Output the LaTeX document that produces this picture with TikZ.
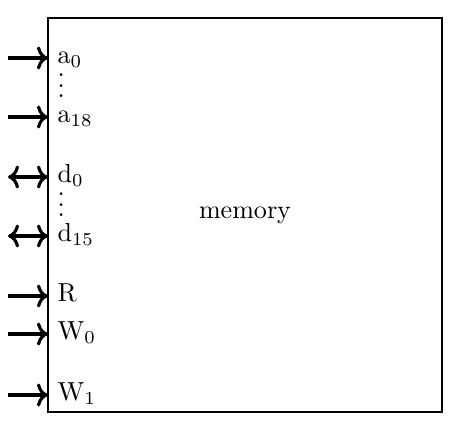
\documentclass[tikz,border=0pt]{standalone}
\usetikzlibrary{arrows.meta, positioning}
\tikzset{membox/.style={rectangle,draw,thick,minimum width=151pt,minimum height=151pt,inner sep=0pt},
port/.style={anchor=mid west,inner xsep=3.5pt,inner ysep=0pt},
dots/.style={anchor=west,inner xsep=3.5pt,inner ysep=0pt},
line/.style={->,very thick},
both/.style={<->,very thick}}

\begin{document}
\begin{tikzpicture}[x=0.384pt,y=-0.384pt]
\useasboundingbox (0,0) rectangle (459,436);
\node[membox] (mem) at (245,215) {memory};
\node[port] (a0) at (48,58) {a$_0$};
\node[dots] (adots) at (48,78) {$\vdots$};
\node[port] (a18) at (48,117) {a$_{18}$};
\node[port] (d0) at (48,177) {d$_0$};
\node[dots] (ddots) at (48,197) {$\vdots$};
\node[port] (d15) at (48,236) {d$_{15}$};
\node[port] (r) at (48,296) {R};
\node[port] (w0) at (48,334) {W$_0$};
\node[port] (w1) at (48,395) {W$_1$};
\coordinate (ina0) at (8,58);
\coordinate (ina18) at (8,117);
\coordinate (ind0) at (8,177);
\coordinate (ind15) at (8,236);
\coordinate (inr) at (8,296);
\coordinate (inw0) at (8,334);
\coordinate (inw1) at (8,395);
\draw[line] (ina0) -- (a0.mid west);
\draw[line] (ina18) -- (a18.mid west);
\draw[both] (ind0) -- (d0.mid west);
\draw[both] (ind15) -- (d15.mid west);
\draw[line] (inr) -- (r.mid west);
\draw[line] (inw0) -- (w0.mid west);
\draw[line] (inw1) -- (w1.mid west);
\end{tikzpicture}
\end{document}
